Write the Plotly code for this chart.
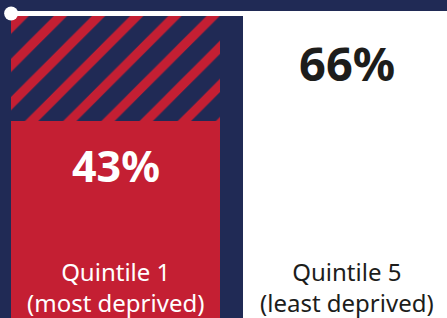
import plotly.graph_objects as go

# Data
categories = ["Quintile 1<br>(most deprived)", "Quintile 5<br>(least deprived)"]
values = [43, 66]
value_labels = ["43%", "66%"]

# Style
NAVY = "#202a55"
RED = "#c41f33"
WHITE = "#ffffff"
DARK = "#1d1d1b"
bar_colors = [RED, WHITE]
label_colors = [WHITE, DARK]
value_sizes = [43, 47]
value_shifts = [-44, -47]
FONT = "Noto Sans"

xpos = list(range(len(categories)))
gap = [max(values) - v for v in values]
bar_w = 0.9

fig = go.Figure()
fig.add_trace(go.Bar(
    x=xpos, y=values, width=bar_w,
    marker=dict(color=bar_colors, line=dict(width=0)),
    hoverinfo="skip", showlegend=False,
))
fig.add_trace(go.Bar(
    x=xpos, y=gap, width=bar_w,
    marker=dict(color=RED, line=dict(width=0),
                pattern=dict(shape="/", fgcolor=RED, bgcolor=NAVY,
                             size=27, solidity=0.35, fillmode="replace")),
    hoverinfo="skip", showlegend=False,
))

# value labels
for i, (v, t) in enumerate(zip(values, value_labels)):
    fig.add_annotation(x=xpos[i], y=v, xref="x", yref="y", text=f"<b>{t}</b>",
                       showarrow=False, yanchor="middle", yshift=value_shifts[i],
                       font=dict(family=FONT, size=value_sizes[i], color=label_colors[i]))
    fig.add_annotation(x=xpos[i], y=0, xref="x", yref="paper", text=categories[i],
                       showarrow=False, yanchor="middle", yshift=31,
                       font=dict(family=FONT, size=24, color=label_colors[i]))

# target line with dot at the top value
top = max(values)
left_edge = xpos[0] - bar_w / 2
fig.add_shape(type="line", xref="x", yref="y", x0=left_edge, x1=xpos[-1] + 1,
              ysizemode="pixel", yanchor=top, y0=2.5, y1=2.5,
              line=dict(color=WHITE, width=5))
fig.add_shape(type="circle", xref="x", yref="y", xsizemode="pixel", ysizemode="pixel",
              xanchor=left_edge, yanchor=top, x0=-7, x1=7, y0=-4.5, y1=9.5,
              fillcolor=WHITE, line=dict(width=0))

fig.update_layout(
    width=447, height=318,
    margin=dict(l=0, r=0, t=0, b=0),
    paper_bgcolor=NAVY, plot_bgcolor=NAVY,
    barmode="stack", bargap=0,
    xaxis=dict(range=[-0.498, 1.429], visible=False, fixedrange=True),
    yaxis=dict(range=[0, 69.5], visible=False, fixedrange=True),
)
fig.write_html("out.html", config={"displayModeBar": False},
               post_script="document.body.style.margin='0';document.body.style.overflow='hidden';")
